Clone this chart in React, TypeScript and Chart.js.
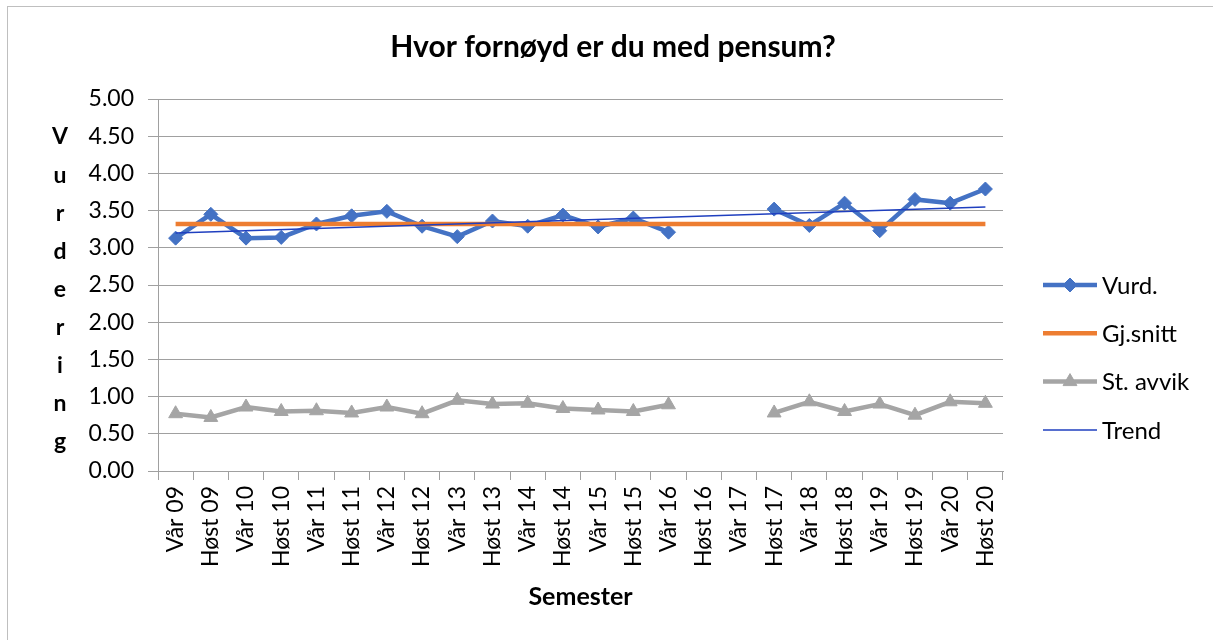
import React, { useEffect, useRef } from "react";
import { Chart, registerables } from "chart.js";

Chart.register(...registerables);

const categories = [
  "Vår 09", "Høst 09", "Vår 10", "Høst 10", "Vår 11", "Høst 11",
  "Vår 12", "Høst 12", "Vår 13", "Høst 13", "Vår 14", "Høst 14",
  "Vår 15", "Høst 15", "Vår 16", "Høst 16", "Vår 17", "Høst 17",
  "Vår 18", "Høst 18", "Vår 19", "Høst 19", "Vår 20", "Høst 20",
];

const vurd = [
  3.13, 3.45, 3.13, 3.14, 3.32, 3.43, 3.49, 3.29, 3.15, 3.36, 3.29, 3.44,
  3.28, 3.40, 3.21, null, null, 3.52, 3.30, 3.60, 3.23, 3.65, 3.60, 3.79,
];

const gjSnitt = [
  3.32, 3.32, 3.32, 3.32, 3.32, 3.32, 3.32, 3.32, 3.32, 3.32, 3.32, 3.32,
  3.32, 3.32, 3.32, 3.32, 3.32, 3.32, 3.32, 3.32, 3.32, 3.32, 3.32, 3.32,
];

const stAvvik = [
  0.77, 0.72, 0.86, 0.80, 0.81, 0.78, 0.86, 0.77, 0.95, 0.90, 0.91, 0.84,
  0.82, 0.80, 0.89, null, null, 0.78, 0.93, 0.80, 0.90, 0.75, 0.93, 0.91,
];

const trend = [
  3.20, null, null, null, null, null, null, null, null, null, null, null,
  null, null, null, null, null, null, null, null, null, null, null, 3.55,
];

const seriesLabels = ["Vurd.", "Gj.snitt", "St. avvik", "Trend"];
const chartTitle = "Hvor fornøyd er du med pensum?";
const yTitle = "Vurdering";
const xTitle = "Semester";

const FONT = "Lato";

function drawMarker(ctx: CanvasRenderingContext2D, style: string, x: number, y: number, r: number, color: string) {
  ctx.save();
  ctx.fillStyle = color;
  ctx.strokeStyle = color;
  ctx.lineWidth = 1;
  ctx.beginPath();
  if (style === "rectRot") {
    ctx.moveTo(x, y - r);
    ctx.lineTo(x + r, y);
    ctx.lineTo(x, y + r);
    ctx.lineTo(x - r, y);
    ctx.closePath();
  } else if (style === "triangle") {
    ctx.moveTo(x, y - r);
    ctx.lineTo(x + r * 0.866, y + r * 0.5);
    ctx.lineTo(x - r * 0.866, y + r * 0.5);
    ctx.closePath();
  }
  ctx.fill();
  ctx.stroke();
  ctx.restore();
}

const decorPlugin = {
  id: "decor",
  afterDraw(chart: any) {
    const ctx: CanvasRenderingContext2D = chart.ctx;
    ctx.save();
    // outer border
    ctx.strokeStyle = "#bfbfbf";
    ctx.lineWidth = 1;
    ctx.strokeRect(7.5, 6.5, 1400, 800);

    // title
    ctx.fillStyle = "#000";
    ctx.textAlign = "center";
    ctx.textBaseline = "middle";
    ctx.font = `bold 30px ${FONT}`;
    ctx.fillText(chartTitle, 613, 47);

    // y-axis title as stacked letters
    ctx.font = `bold 23px ${FONT}`;
    const letters = yTitle.split("");
    letters.forEach((ch, i) => {
      ctx.fillText(ch, 60, 137 + i * 38.1);
    });

    // x-axis title
    const area = chart.chartArea;
    ctx.font = `bold 25px ${FONT}`;
    ctx.fillText(xTitle, (area.left + area.right) / 2, 597);

    // legend
    ctx.textAlign = "left";
    ctx.font = `24px ${FONT}`;
    chart.data.datasets.forEach((ds: any, i: number) => {
      const y = 285 + i * 48.3;
      ctx.save();
      ctx.strokeStyle = ds.borderColor;
      ctx.lineWidth = ds.borderWidth;
      ctx.beginPath();
      ctx.moveTo(1043, y);
      ctx.lineTo(1097, y);
      ctx.stroke();
      ctx.restore();
      if (ds.pointRadius > 0) {
        drawMarker(ctx, ds.pointStyle, 1070, y, ds.pointRadius, ds.pointBackgroundColor);
      }
      ctx.fillStyle = "#000";
      ctx.fillText(ds.label, 1102, y + 1);
    });
    ctx.restore();
  },
};

export default function App() {
  const ref = useRef<HTMLCanvasElement | null>(null);

  useEffect(() => {
    if (!ref.current) return;
    const chart = new Chart(ref.current, {
      type: "line",
      data: {
        labels: categories,
        datasets: [
          {
            label: seriesLabels[0],
            data: vurd,
            borderColor: "#4472C4",
            backgroundColor: "#4472C4",
            pointBackgroundColor: "#4472C4",
            pointBorderColor: "#4472C4",
            borderWidth: 4.5,
            pointStyle: "rectRot",
            pointRadius: 7,
            pointBorderWidth: 1,
            spanGaps: false,
            order: 4,
          },
          {
            label: seriesLabels[1],
            data: gjSnitt,
            borderColor: "#ED7D31",
            backgroundColor: "#ED7D31",
            pointBackgroundColor: "#ED7D31",
            borderWidth: 4.5,
            pointRadius: 0,
            spanGaps: true,
            order: 3,
          },
          {
            label: seriesLabels[2],
            data: stAvvik,
            borderColor: "#A5A5A5",
            backgroundColor: "#A5A5A5",
            pointBackgroundColor: "#A5A5A5",
            pointBorderColor: "#A5A5A5",
            borderWidth: 4.5,
            pointStyle: "triangle",
            pointRadius: 8,
            pointBorderWidth: 1,
            spanGaps: false,
            order: 2,
          },
          {
            label: seriesLabels[3],
            data: trend,
            borderColor: "#1f3fbf",
            backgroundColor: "#1f3fbf",
            pointBackgroundColor: "#1f3fbf",
            borderWidth: 1.5,
            pointRadius: 0,
            spanGaps: true,
            order: 1,
          },
        ],
      },
      options: {
        responsive: false,
        animation: false,
        devicePixelRatio: 1,
        layout: { padding: { left: 0, top: 99, right: 210, bottom: 0 } },
        plugins: {
          legend: { display: false },
          title: { display: false },
          tooltip: { enabled: false },
        },
        scales: {
          x: {
            offset: true,
            grid: {
              display: true,
              offset: true,
              drawOnChartArea: false,
              drawTicks: true,
              tickLength: 9,
              color: "#a0a0a0",
            },
            border: { display: true, color: "#a0a0a0", width: 1 },
            ticks: {
              autoSkip: false,
              minRotation: 90,
              maxRotation: 90,
              padding: 6,
              color: "#000",
              font: { family: FONT, size: 23 },
            },
            afterFit(scale: any) {
              scale.height = 169;
            },
          },
          y: {
            min: 0,
            max: 5,
            ticks: {
              stepSize: 0.5,
              color: "#000",
              padding: 14,
              font: { family: FONT, size: 23 },
              callback: (v: any) => Number(v).toFixed(2),
            },
            grid: {
              color: "#a0a0a0",
              lineWidth: 1,
              drawTicks: true,
              tickLength: 10,
            },
            border: { display: true, color: "#a0a0a0", width: 1 },
            afterFit(scale: any) {
              scale.width = 158;
            },
          },
        },
      },
      plugins: [decorPlugin],
    } as any);
    return () => chart.destroy();
  }, []);

  return (
    <div style={{ position: "fixed", left: 0, top: 0, width: 1213, height: 640, background: "#fff" }}>
      <canvas ref={ref} width={1213} height={640} style={{ width: 1213, height: 640, display: "block" }} />
    </div>
  );
}
